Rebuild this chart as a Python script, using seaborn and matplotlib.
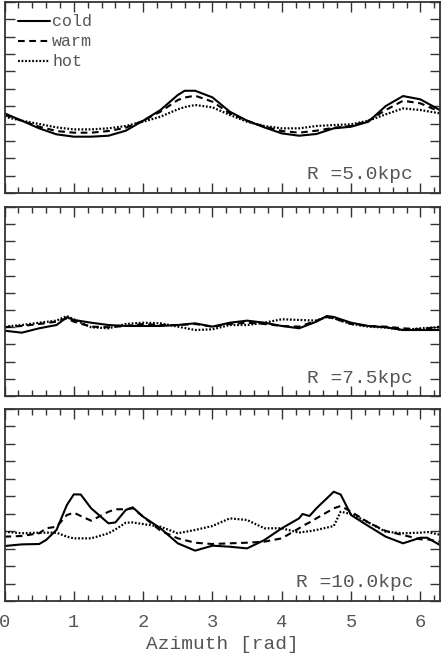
import numpy as np
import pandas as pd
import seaborn as sns
import matplotlib.pyplot as plt
from matplotlib.ticker import MultipleLocator

# azimuth samples [rad] and relative surface density for each gas phase
az_5 = [0, 0.25, 0.5, 0.75, 1.0, 1.25, 1.5, 1.75, 2.0, 2.25, 2.5, 2.6, 2.75, 3.0, 3.25,
        3.5, 3.75, 4.0, 4.25, 4.5, 4.75, 5.0, 5.25, 5.5, 5.75, 6.0, 6.28]
cold_5 = [0.918, 0.833, 0.745, 0.676, 0.649, 0.649, 0.660, 0.718, 0.833, 0.956, 1.129, 1.178,
          1.178, 1.102, 0.937, 0.833, 0.756, 0.687, 0.660, 0.680, 0.745, 0.764, 0.821, 1.002,
          1.117, 1.079, 0.956]
warm_5 = [0.900, 0.833, 0.764, 0.714, 0.695, 0.695, 0.714, 0.752, 0.833, 0.937, 1.071, 1.100,
          1.121, 1.052, 0.918, 0.833, 0.764, 0.714, 0.695, 0.718, 0.752, 0.772, 0.833, 0.956,
          1.063, 1.033, 0.937]
hot_5 = [0.879, 0.833, 0.795, 0.756, 0.733, 0.733, 0.745, 0.772, 0.821, 0.879, 0.964, 0.990,
         1.014, 0.987, 0.900, 0.821, 0.772, 0.745, 0.745, 0.772, 0.783, 0.791, 0.833, 0.906,
         0.975, 0.956, 0.918]

az_75 = [0, 0.25, 0.5, 0.75, 0.9, 1.0, 1.25, 1.5, 1.75, 2.0, 2.25, 2.5, 2.75, 3.0, 3.25,
         3.5, 3.75, 4.0, 4.25, 4.5, 4.65, 4.75, 5.0, 5.25, 5.5, 5.75, 6.0, 6.28]
cold_75 = [0.760, 0.737, 0.788, 0.826, 0.916, 0.885, 0.853, 0.826, 0.815, 0.815, 0.815, 0.826,
           0.846, 0.807, 0.853, 0.877, 0.853, 0.815, 0.788, 0.865, 0.931, 0.920, 0.853, 0.815,
           0.800, 0.768, 0.768, 0.768]
warm_75 = [0.800, 0.815, 0.838, 0.865, 0.904, 0.865, 0.807, 0.800, 0.815, 0.838, 0.826, 0.826,
           0.838, 0.807, 0.838, 0.853, 0.838, 0.815, 0.807, 0.877, 0.920, 0.904, 0.838, 0.815,
           0.807, 0.788, 0.776, 0.807]
hot_75 = [0.807, 0.826, 0.853, 0.877, 0.931, 0.893, 0.800, 0.788, 0.838, 0.853, 0.846, 0.807,
          0.768, 0.776, 0.826, 0.826, 0.853, 0.893, 0.885, 0.877, 0.920, 0.904, 0.838, 0.807,
          0.796, 0.768, 0.788, 0.800]

az_10 = [0, 0.25, 0.5, 0.6, 0.75, 0.9, 1.0, 1.1, 1.25, 1.5, 1.6, 1.75, 1.85, 2.0, 2.25, 2.5,
         2.75, 3.0, 3.25, 3.5, 3.75, 4.0, 4.25, 4.3, 4.4, 4.5, 4.75, 4.85, 5.0, 5.25, 5.5,
         5.75, 6.0, 6.1, 6.28]
cold_10 = [0.630, 0.649, 0.653, 0.699, 0.814, 1.100, 1.222, 1.220, 1.062, 0.890, 0.900, 1.043,
           1.073, 0.966, 0.833, 0.661, 0.577, 0.634, 0.622, 0.603, 0.699, 0.833, 0.947, 0.997,
           0.974, 1.062, 1.252, 1.220, 0.985, 0.859, 0.737, 0.661, 0.725, 0.725, 0.642]
warm_10 = [0.737, 0.745, 0.776, 0.833, 0.851, 0.985, 1.012, 0.974, 0.920, 1.023, 1.051, 1.051,
           1.062, 0.966, 0.806, 0.718, 0.668, 0.653, 0.661, 0.668, 0.680, 0.718, 0.833, 0.860,
           0.900, 0.947, 1.062, 1.089, 1.023, 0.900, 0.802, 0.756, 0.707, 0.707, 0.680]
hot_10 = [0.794, 0.776, 0.783, 0.783, 0.783, 0.737, 0.718, 0.718, 0.718, 0.776, 0.820, 0.897,
          0.900, 0.882, 0.851, 0.776, 0.814, 0.859, 0.947, 0.928, 0.833, 0.833, 0.783, 0.790,
          0.800, 0.814, 0.859, 1.023, 0.997, 0.900, 0.794, 0.776, 0.783, 0.790, 0.760]

panels = [
    ("R =5.0kpc", az_5, {"cold": cold_5, "warm": warm_5, "hot": hot_5}),
    ("R =7.5kpc", az_75, {"cold": cold_75, "warm": warm_75, "hot": hot_75}),
    ("R =10.0kpc", az_10, {"cold": cold_10, "warm": warm_10, "hot": hot_10}),
]
styles = {"cold": "-", "warm": (0, (3.2, 2.2)), "hot": (0, (0.8, 0.8))}

sns.set_style("ticks")
plt.rcParams["font.family"] = ["Liberation Mono", "DejaVu Sans Mono"]
plt.rcParams["text.color"] = "#555555"
plt.rcParams["axes.labelcolor"] = "#555555"

fig = plt.figure(figsize=(4.42, 6.53), dpi=100)
boxes = [(0.0102, 0.7044, 0.9853, 0.2925),
         (0.0102, 0.3936, 0.9853, 0.2894),
         (0.0102, 0.0796, 0.9853, 0.2941)]

for i, (label, az, series) in enumerate(panels):
    ax = fig.add_axes(boxes[i])
    for name, vals in series.items():
        sns.lineplot(x=az, y=vals, ax=ax, color="black", linestyle=styles[name],
                     lw=1.5 if name != "hot" else 1.6, label=name)
    ax.set_xlim(0, 2 * np.pi)
    ax.set_ylim(0, 2.2)
    ax.yaxis.set_major_locator(MultipleLocator(0.2))
    ax.xaxis.set_major_locator(MultipleLocator(1))
    ax.xaxis.set_minor_locator(MultipleLocator(0.2))
    ax.tick_params(which="both", direction="in", top=True, right=True, color="#333333",
                   width=1.0, labelleft=False, labelsize=13.5, labelcolor="#555555", pad=9)
    ax.tick_params(which="major", length=7)
    ax.tick_params(axis="x", which="minor", length=4)
    for sp in ax.spines.values():
        sp.set_linewidth(1.3)
        sp.set_color("#333333")
    ax.set_ylabel("")
    ax.text(0.938, 0.095, label, transform=ax.transAxes, ha="right", va="center",
            fontsize=14)
    if i == 0:
        ax.legend(loc="upper left", frameon=False, fontsize=12, handlelength=1.9,
                  handletextpad=0.15, labelspacing=0.3, borderaxespad=0.0,
                  borderpad=0.0, bbox_to_anchor=(0.031, 0.935))
    else:
        ax.get_legend().remove()
    if i < 2:
        ax.tick_params(labelbottom=False)
    else:
        ax.set_xlabel("Azimuth [rad]", fontsize=14, labelpad=4)

fig.savefig("out.png", dpi=100)
